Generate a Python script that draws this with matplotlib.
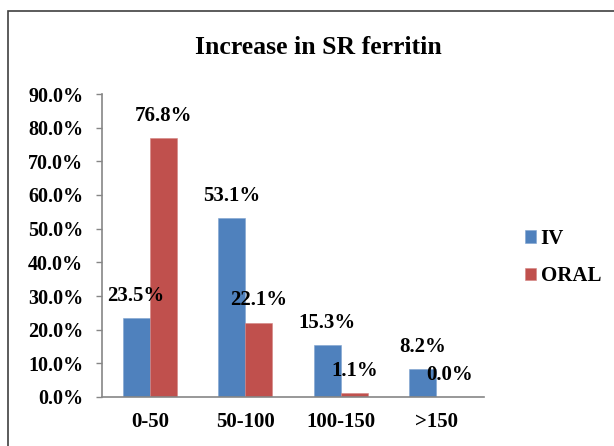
import numpy as np
import matplotlib
matplotlib.use("Agg")
import matplotlib.pyplot as plt
from matplotlib.patches import Rectangle
from matplotlib.ticker import FuncFormatter

categories = ["0-50", "50-100", "100-150", ">150"]
iv = [23.5, 53.1, 15.3, 8.2]
oral = [76.8, 22.1, 1.1, 0.0]
yticks = np.arange(0, 91, 10)

plt.rcParams["font.family"] = ["Liberation Serif", "DejaVu Serif"]
plt.rcParams["font.weight"] = "bold"

fig = plt.figure(figsize=(6.14, 4.46), dpi=100)
ax = fig.add_axes([102 / 614, 49 / 446, 382 / 614, 303 / 446])

# chart border (runs off the right and bottom edges like the original)
fig.patches.append(Rectangle((8 / 614, -0.05), 1.0, 1 - 11 / 446 + 0.05,
                             transform=fig.transFigure, fill=False,
                             edgecolor="#404040", linewidth=1.2))

x = np.arange(len(categories))
w = 0.283
b1 = ax.bar(x - w / 2, iv, w, color="#4F81BD", edgecolor="#7FA3D0", linewidth=0.4, label="IV")
b2 = ax.bar(x + w / 2, oral, w, color="#C0504D", edgecolor="#D48482", linewidth=0.4, label="ORAL")

for bars, vals in ((b1, iv), (b2, oral)):
    for r, v in zip(bars, vals):
        ax.annotate(f"{v:.1f}%", (r.get_x() + r.get_width() / 2, v),
                    xytext=(0, 16), textcoords="offset points",
                    ha="center", va="center", fontsize=15, fontweight="bold")

ax.set_xlim(-0.5, len(categories) - 0.5)
ax.set_ylim(0, 90)
ax.set_yticks(yticks)
ax.yaxis.set_major_formatter(FuncFormatter(lambda v, p: f"{v:.1f}%"))
ax.set_xticks(x)
ax.set_xticklabels(categories)

for s in ("top", "right"):
    ax.spines[s].set_visible(False)
for s in ("left", "bottom"):
    ax.spines[s].set_color("#868686")
    ax.spines[s].set_linewidth(1.2)

ax.tick_params(axis="y", length=4.5, width=1.0, color="#868686", pad=9, labelsize=14.5)
ax.tick_params(axis="x", length=0, pad=11, labelsize=15)

fig.text(318 / 614, 1 - 47.5 / 446, "Increase in SR ferritin", ha="center", va="center",
         fontsize=18.5, fontweight="bold")

fig.legend(handles=[b1, b2], loc="center left", bbox_to_anchor=(525 / 614, 1 - 257.5 / 446),
           frameon=False, borderpad=0, borderaxespad=0, handlelength=0.55, handleheight=0.55,
           handletextpad=0.2, labelspacing=0.85, fontsize=15)

fig.savefig("out.png", dpi=100)
